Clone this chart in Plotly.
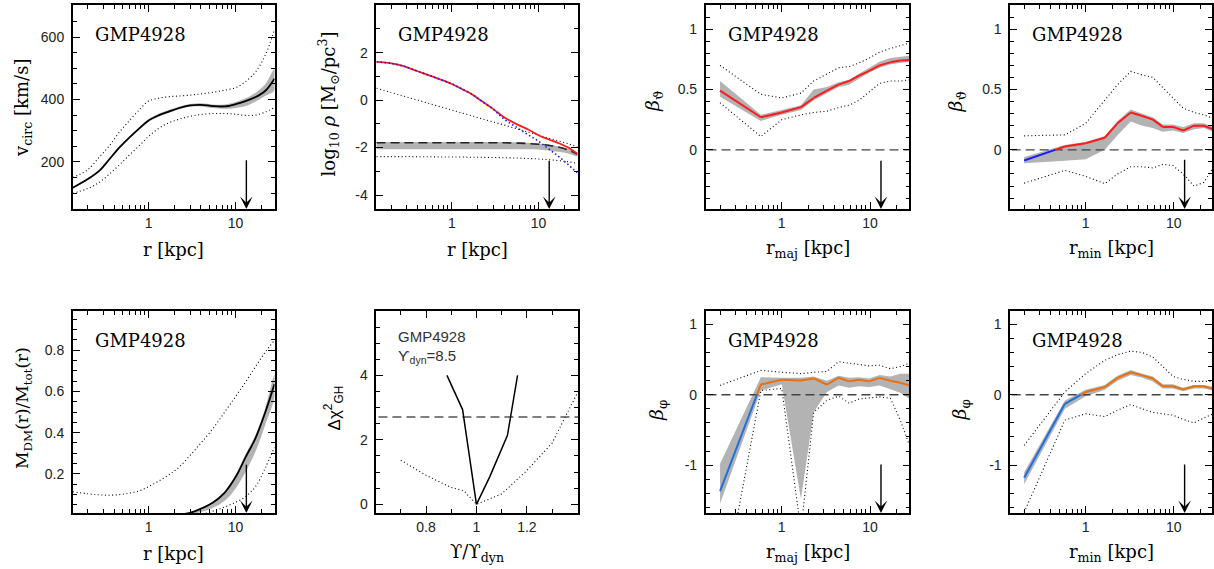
import numpy as np
import plotly.graph_objects as go

W, H = 1214, 569
OFF = 0  # page body margin is removed by the post script below

# ---------------- data ----------------
galaxy = "GMP4928"
r_arrow = 13.3  # kpc, marked by the arrow

# radial profiles (top-left, top-middle, bottom-left)
r_prof = [0.134, 0.2, 0.27, 0.35, 0.46, 0.6, 0.8, 1.0, 1.3, 1.7, 2.2, 3.0, 4.0, 5.5, 7.5, 10, 13, 17, 22, 28]
vcirc = [117, 145, 171, 207, 246, 278, 310, 333, 349, 361, 372, 381, 383, 379, 378, 385, 395, 408, 428, 467]
vcirc_lo = [115, 142, 168, 204, 243, 275, 306, 329, 345, 357, 368, 377, 378, 373, 370, 373, 379, 394, 412, 430]
vcirc_hi = [119, 148, 174, 210, 249, 281, 314, 337, 354, 366, 377, 386, 388, 384, 384, 392, 404, 422, 450, 497]
vcirc_dot_hi = [150, 175, 215, 250, 295, 332, 370, 395, 404, 409, 411, 414, 418, 423, 430, 438, 457, 489, 543, 624]
vcirc_dot_lo = [99, 115, 134, 160, 190, 222, 255, 282, 307, 325, 336, 346, 352, 355, 355, 353, 349, 350, 360, 374]

rho_tot = [1.61, 1.55, 1.44, 1.30, 1.14, 0.99, 0.82, 0.68, 0.47, 0.25, -0.04, -0.38, -0.72, -1.0, -1.23, -1.48, -1.65, -1.81, -2.0, -2.26]
rho_star = [1.61, 1.55, 1.44, 1.30, 1.14, 0.99, 0.82, 0.68, 0.47, 0.25, -0.04, -0.38, -0.8, -1.13, -1.45, -1.73, -2.05, -2.37, -2.72, -3.06]
rho_dm = [-1.8, -1.8, -1.8, -1.8, -1.8, -1.8, -1.8, -1.8, -1.8, -1.8, -1.8, -1.8, -1.8, -1.81, -1.83, -1.86, -1.9, -1.98, -2.1, -2.28]
rho_dm_hi = [-1.77, -1.77, -1.77, -1.77, -1.77, -1.77, -1.77, -1.77, -1.77, -1.77, -1.77, -1.77, -1.77, -1.78, -1.8, -1.83, -1.87, -1.95, -2.06, -2.2]
rho_dm_lo = [-2.07, -2.07, -2.07, -2.07, -2.07, -2.07, -2.07, -2.07, -2.07, -2.07, -2.07, -2.07, -2.07, -2.07, -2.07, -2.08, -2.12, -2.18, -2.25, -2.36]
rho_dot_hi = [0.5, 0.32, 0.18, 0.06, -0.06, -0.19, -0.32, -0.42, -0.54, -0.66, -0.78, -0.92, -1.05, -1.2, -1.34, -1.47, -1.6, -1.72, -1.84, -1.96]
rho_dot_lo = [-2.38, -2.38, -2.38, -2.38, -2.39, -2.39, -2.4, -2.4, -2.4, -2.41, -2.41, -2.42, -2.43, -2.44, -2.46, -2.48, -2.51, -2.55, -2.6, -2.66]

fdm = [0, 0, 0, 0, 0, 0, 0, 0, 0, 0, 0.003, 0.012, 0.032, 0.062, 0.11, 0.185, 0.28, 0.375, 0.5, 0.635]
fdm_lo = [0, 0, 0, 0, 0, 0, 0, 0, 0, 0, 0.0, 0.004, 0.016, 0.036, 0.07, 0.13, 0.21, 0.31, 0.44, 0.57]
fdm_hi = [0, 0, 0, 0, 0, 0, 0, 0, 0, 0, 0.004, 0.014, 0.035, 0.066, 0.115, 0.195, 0.295, 0.39, 0.52, 0.68]
fdm_dot_hi = [0.114, 0.104, 0.099, 0.097, 0.1, 0.107, 0.12, 0.139, 0.165, 0.195, 0.23, 0.29, 0.35, 0.42, 0.5, 0.575, 0.645, 0.72, 0.79, 0.848]
fdm_dot_lo = [0, 0, 0, 0, 0, 0, 0, 0, 0, 0, 0, 0, 0.005, 0.02, 0.04, 0.063, 0.09, 0.14, 0.23, 0.33]

# chi^2 versus mass-to-light ratio (bottom, second panel)
ups_dyn = 8.5
ups = [0.883, 0.945, 1.0, 1.053, 1.123, 1.163]
dchi = [4.0, 2.94, 0.0, 0.86, 2.14, 4.0]
ups_dot = [0.70, 0.80, 0.90, 0.95, 1.0, 1.1, 1.2, 1.3, 1.4]
dchi_dot = [1.37, 0.9, 0.52, 0.42, 0.0, 0.32, 1.05, 1.9, 3.45]
dchi_crit = 2.71

# anisotropy profiles
r_beta = [0.2, 0.58, 1.0, 1.65, 2.3, 3.25, 4.4, 5.8, 7.5, 9.8, 12.8, 17, 22, 28]
bth_maj = [0.49, 0.27, 0.31, 0.354, 0.43, 0.49, 0.54, 0.57, 0.615, 0.655, 0.70, 0.725, 0.74, 0.745]
bth_maj_lo = [0.44, 0.24, 0.29, 0.33, 0.41, 0.47, 0.52, 0.54, 0.59, 0.64, 0.68, 0.71, 0.72, 0.73]
bth_maj_hi = [0.57, 0.29, 0.33, 0.37, 0.50, 0.52, 0.56, 0.58, 0.63, 0.68, 0.73, 0.76, 0.77, 0.78]
bth_maj_dhi = [0.70, 0.46, 0.43, 0.47, 0.57, 0.63, 0.68, 0.69, 0.72, 0.76, 0.81, 0.84, 0.86, 0.885]
bth_maj_dlo = [0.39, 0.11, 0.25, 0.29, 0.31, 0.32, 0.35, 0.37, 0.41, 0.48, 0.55, 0.57, 0.57, 0.58]

bth_min = [-0.088, 0.028, 0.055, 0.10, 0.22, 0.31, 0.28, 0.25, 0.19, 0.19, 0.16, 0.20, 0.20, 0.17]
bth_min_lo = [-0.11, -0.09, -0.077, 0.0, 0.12, 0.235, 0.2, 0.18, 0.15, 0.16, 0.14, 0.17, 0.18, 0.15]
bth_min_hi = [-0.06, 0.04, 0.065, 0.115, 0.24, 0.335, 0.30, 0.27, 0.21, 0.21, 0.19, 0.22, 0.22, 0.19]
bth_min_dhi = [0.116, 0.124, 0.22, 0.41, 0.54, 0.65, 0.62, 0.60, 0.52, 0.43, 0.345, 0.31, 0.29, 0.26]
bth_min_dlo = [-0.276, -0.17, -0.22, -0.28, -0.2, -0.14, -0.14, -0.15, -0.12, -0.13, -0.2, -0.30, -0.27, -0.15]

bph_maj = [-1.37, 0.147, 0.213, 0.204, 0.232, 0.142, 0.242, 0.19, 0.213, 0.19, 0.24, 0.20, 0.17, 0.133]
bph_maj_lo = [-1.55, 0.06, 0.15, -1.48, -0.25, 0.04, 0.13, 0.10, 0.12, 0.11, 0.13, 0.08, 0.03, -0.06]
bph_maj_hi = [-0.98, 0.25, 0.24, 0.24, 0.26, 0.20, 0.27, 0.24, 0.25, 0.23, 0.28, 0.26, 0.30, 0.30]
bph_maj_dhi = [0.133, 0.346, 0.32, 0.30, 0.32, 0.33, 0.47, 0.45, 0.43, 0.41, 0.42, 0.37, 0.40, 0.45]
bph_maj_dlo = [-3.04, 0.06, 0.09, -1.93, -0.25, -0.08, -0.02, -0.12, -0.06, -0.04, -0.03, -0.05, -0.36, -0.72]

bph_min = [-1.18, -0.128, 0.04, 0.11, 0.24, 0.32, 0.275, 0.23, 0.12, 0.12, 0.076, 0.12, 0.12, 0.085]
bph_min_lo = [-1.27, -0.2, -0.02, 0.07, 0.2, 0.28, 0.24, 0.19, 0.09, 0.09, 0.05, 0.09, 0.09, 0.06]
bph_min_hi = [-1.1, -0.08, 0.07, 0.14, 0.27, 0.35, 0.30, 0.26, 0.15, 0.15, 0.10, 0.14, 0.14, 0.11]
bph_min_dhi = [-0.72, 0.04, 0.3, 0.49, 0.57, 0.62, 0.6, 0.535, 0.4, 0.26, 0.22, 0.19, 0.19, 0.19]
bph_min_dlo = [-1.67, -0.36, -0.27, -0.31, -0.22, -0.14, -0.2, -0.25, -0.27, -0.29, -0.35, -0.4, -0.33, -0.27]

# ---------------- styling ----------------
BAND = "#b3b3b3"
RED = "#ff1a1a"
BLUE = "#1a1aff"
BLUE2 = "#1f6fdc"
ORANGE = "#e8700f"
DOT = "1px,2.6px"
DASH = "9px,5px"
SERIF = "DejaVu Serif"
SANS = "Liberation Sans"

# panel frames in reference pixels: (left, right, top, bottom)
frames = [(73, 275, 5, 209), (377, 579, 5, 209), (707, 911, 5, 209), (1012, 1214, 5, 209),
          (73, 275, 311, 513), (377, 579, 311, 513), (707, 911, 311, 513), (1012, 1214, 311, 513)]

fig = go.Figure()


def ax(i):
    return "" if i == 1 else str(i)


def band(i, x, lo, hi, shape="linear"):
    fig.add_trace(go.Scatter(x=list(x) + list(x)[::-1], y=list(hi) + list(lo)[::-1], fill="toself",
                             fillcolor=BAND, line=dict(width=0, shape=shape), mode="lines", hoverinfo="skip",
                             xaxis="x" + ax(i), yaxis="y" + ax(i)))


def line(i, x, y, color="black", width=1.6, dash=None, shape="linear"):
    fig.add_trace(go.Scatter(x=x, y=y, mode="lines",
                             line=dict(color=color, width=width, dash=dash, shape=shape),
                             xaxis="x" + ax(i), yaxis="y" + ax(i)))


def split_sign(x, y):
    """split a polyline into negative and positive parts (interpolating in log r)."""
    negx, negy, posx, posy = [], [], [], []
    for k in range(len(x) - 1):
        x0, x1, y0, y1 = x[k], x[k + 1], y[k], y[k + 1]
        if (y0 < 0) == (y1 < 0):
            tx, ty = (negx, negy) if y0 < 0 else (posx, posy)
            tx += [x0, x1, None]
            ty += [y0, y1, None]
        else:
            t = y0 / (y0 - y1)
            xc = 10 ** (np.log10(x0) + t * (np.log10(x1) - np.log10(x0)))
            a, b = ((negx, negy), (posx, posy)) if y0 < 0 else ((posx, posy), (negx, negy))
            a[0].extend([x0, xc, None]); a[1].extend([y0, 0, None])
            b[0].extend([xc, x1, None]); b[1].extend([0, y1, None])
    return (negx, negy), (posx, posy)


def sign_line(i, x, y, cneg, cpos):
    (nx, ny), (px, py) = split_sign(x, y)
    line(i, px, py, cpos, 2)
    line(i, nx, ny, cneg, 2)


S = "spline"
# panel 1: circular velocity
band(1, r_prof, vcirc_lo, vcirc_hi, S)
line(1, r_prof, vcirc_dot_hi, width=1.1, dash=DOT, shape=S)
line(1, r_prof, vcirc_dot_lo, width=1.1, dash=DOT, shape=S)
line(1, r_prof, vcirc, width=1.8, shape=S)

# panel 2: density
band(2, r_prof, rho_dm_lo, rho_dm_hi, S)
line(2, r_prof, rho_dot_hi, width=1.1, dash=DOT, shape=S)
line(2, r_prof, rho_dot_lo, width=1.1, dash=DOT, shape=S)
line(2, r_prof, rho_dm, color="#222222", width=1.6, dash=DASH, shape=S)
line(2, r_prof, rho_tot, color=RED, width=1.8, shape=S)
line(2, r_prof, rho_star, color=BLUE, width=1.6, dash="1.5px,2.5px", shape=S)

# panel 3: beta_theta major axis
band(3, r_beta, bth_maj_lo, bth_maj_hi)
line(3, r_beta, bth_maj_dhi, width=1.1, dash=DOT)
line(3, r_beta, bth_maj_dlo, width=1.1, dash=DOT)
line(3, [0.1, 40], [0, 0], color="#444444", width=1.4, dash=DASH)
sign_line(3, r_beta, bth_maj, BLUE, RED)

# panel 4: beta_theta minor axis
band(4, r_beta, bth_min_lo, bth_min_hi)
line(4, r_beta, bth_min_dhi, width=1.1, dash=DOT)
line(4, r_beta, bth_min_dlo, width=1.1, dash=DOT)
line(4, [0.1, 40], [0, 0], color="#444444", width=1.4, dash=DASH)
sign_line(4, r_beta, bth_min, BLUE, RED)

# panel 5: dark matter fraction
band(5, r_prof, fdm_lo, fdm_hi, S)
line(5, r_prof, fdm_dot_hi, width=1.1, dash=DOT, shape=S)
line(5, r_prof, fdm_dot_lo, width=1.1, dash=DOT, shape=S)
line(5, r_prof, fdm, width=1.8, shape=S)

# panel 6: delta chi^2
line(6, ups_dot, dchi_dot, width=1.1, dash=DOT)
line(6, [0.5, 1.5], [dchi_crit, dchi_crit], color="#555555", width=1.6, dash=DASH)
line(6, ups, dchi, width=1.5)

# panel 7: beta_phi major axis
band(7, r_beta, bph_maj_lo, bph_maj_hi)
line(7, r_beta, bph_maj_dhi, width=1.1, dash=DOT)
line(7, r_beta, bph_maj_dlo, width=1.1, dash=DOT)
line(7, [0.1, 40], [0, 0], color="#444444", width=1.4, dash=DASH)
sign_line(7, r_beta, bph_maj, BLUE2, ORANGE)

# panel 8: beta_phi minor axis
band(8, r_beta, bph_min_lo, bph_min_hi)
line(8, r_beta, bph_min_dhi, width=1.1, dash=DOT)
line(8, r_beta, bph_min_dlo, width=1.1, dash=DOT)
line(8, [0.1, 40], [0, 0], color="#444444", width=1.4, dash=DASH)
sign_line(8, r_beta, bph_min, BLUE2, ORANGE)

# ---------------- axes ----------------
log_minor = [0.2, 0.3, 0.4, 0.5, 0.6, 0.7, 0.8, 0.9, 2, 3, 4, 5, 6, 7, 8, 9, 20, 30]
xranges = [[-0.871, 1.448], [-0.873, 1.457], [-0.86, 1.447], [-0.856, 1.435],
           [-0.871, 1.448], [0.603, 1.403], [-0.86, 1.447], [-0.856, 1.435]]
yranges = [[49, 703], [-4.59, 4.01], [-0.49, 1.2], [-0.49, 1.2],
           [0.011, 0.989], [-0.27, 6.0], [-1.68, 1.19], [-1.68, 1.19]]
ymajor = [([200, 400, 600], 50), ([-4, -2, 0, 2], 1), ([0, 0.5, 1], 0.1), ([0, 0.5, 1], 0.1),
          ([0.2, 0.4, 0.6, 0.8], 0.05), ([0, 2, 4], 0.5), ([-1, 0, 1], 0.2), ([-1, 0, 1], 0.2)]

common = dict(showline=True, linecolor="black", linewidth=1.8, mirror="ticks", ticks="inside",
              ticklen=7, tickwidth=1, tickcolor="black", showgrid=False, zeroline=False,
              tickfont=dict(family=SANS, size=14, color="#222222"))


def fx(px):
    return min(max((px - OFF) / W, 0.0), 1.0)


def fy(py):
    return min(max(1 - (py - OFF) / H, 0.0), 1.0)


layout_axes = {}
for i, (fl, fr, ft, fb) in enumerate(frames, start=1):
    xd = [fx(fl), fx(fr)]
    yd = [fy(fb), fy(ft)]
    if i == 6:
        xa = dict(type="linear", range=xranges[i - 1], tickvals=[0.8, 1.0, 1.2], ticktext=["0.8", "1", "1.2"],
                  minor=dict(ticks="inside", ticklen=4, tickcolor="black", tickvals=[0.7, 0.9, 1.1, 1.3]))
    else:
        xa = dict(type="log", range=xranges[i - 1], tickvals=[1, 10], ticktext=["1", "10"],
                  minor=dict(ticks="inside", ticklen=4, tickcolor="black", tickvals=log_minor))
    xa.update(common)
    xa.update(domain=xd, anchor="y" + ax(i), ticklabelstandoff=0)
    tv, mstep = ymajor[i - 1]
    ya = dict(range=yranges[i - 1], tickvals=tv, ticktext=[("%g" % v) for v in tv],
              minor=dict(ticks="inside", ticklen=4, tickcolor="black", dtick=mstep, tick0=0))
    ya.update(common)
    ya.update(domain=yd, anchor="x" + ax(i), ticklabelstandoff=4)
    layout_axes["xaxis" + ax(i)] = xa
    layout_axes["yaxis" + ax(i)] = ya

fig.update_layout(**layout_axes)

# ---------------- annotations ----------------
ann = []


def txt(px, py, text, size=18, family=SERIF, angle=0, xanchor="center", yanchor="middle", color="black"):
    ann.append(dict(x=fx(px), y=fy(py), xref="paper", yref="paper", text=text, showarrow=False,
                    textangle=angle, xanchor=xanchor, yanchor=yanchor,
                    font=dict(family=family, size=size, color=color)))


# galaxy labels
for i in [1, 2, 3, 4, 5, 7, 8]:
    fl, fr, ft, fb = frames[i - 1]
    txt(fl + 20, ft + 29, galaxy, size=18, xanchor="left")
txt(397, 337, galaxy, size=15, family=SANS, xanchor="left", color="#333333")
txt(397, 356, "ϒ<sub>dyn</sub>=%g" % ups_dyn, size=15, family=SANS, xanchor="left", color="#333333")

# x titles
xt = ["r [kpc]", "r [kpc]", "r<sub>maj</sub> [kpc]", "r<sub>min</sub> [kpc]",
      "r [kpc]", "ϒ/ϒ<sub>dyn</sub>", "r<sub>maj</sub> [kpc]", "r<sub>min</sub> [kpc]"]
for i, t in enumerate(xt):
    fl, fr, ft, fb = frames[i]
    txt((fl + fr) / 2, fb + 40, t, size=18)

# y titles
txt(23, 108, "v<sub>circ</sub> [km/s]", size=18, angle=-90)
txt(329, 104, "log<sub>10</sub> <i>ρ</i> [M<sub>⊙</sub>/pc<sup>3</sup>]", size=18, angle=-90)
txt(655, 101, "<i>β</i><sub>ϑ</sub>", size=19, angle=-90)
txt(959, 101, "<i>β</i><sub>ϑ</sub>", size=19, angle=-90)
txt(23, 408, "M<sub>DM</sub>(r)/M<sub>tot</sub>(r)", size=17, angle=-90)
txt(334, 408, "Δχ<sup>2</sup><sub>GH</sub>", size=17, family=SANS, angle=-90)
txt(658, 410, "<i>β</i><sub>φ</sub>", size=19, angle=-90)
txt(962, 410, "<i>β</i><sub>φ</sub>", size=19, angle=-90)

# arrows marking r = r_arrow
arrow_top = {1: 210, 2: -2.49, 3: -0.077, 4: -0.07, 5: 0.252, 7: -0.97, 8: -0.97}
for i, ytop in arrow_top.items():
    xl = float(np.log10(r_arrow))
    ann.append(dict(x=xl, y=yranges[i - 1][0], ax=xl, ay=ytop, xref="x" + ax(i), yref="y" + ax(i),
                    axref="x" + ax(i), ayref="y" + ax(i), showarrow=True, arrowhead=3, arrowsize=1.5,
                    arrowwidth=1.4, arrowcolor="black", text="", standoff=0))

fig.update_layout(annotations=ann, width=W, height=H, margin=dict(l=0, r=0, t=0, b=0),
                  paper_bgcolor="white", plot_bgcolor="white", showlegend=False)

fig.write_html("out.html", config={"displayModeBar": False},
               post_script="document.body.style.margin='0px';document.body.style.overflow='hidden';")
